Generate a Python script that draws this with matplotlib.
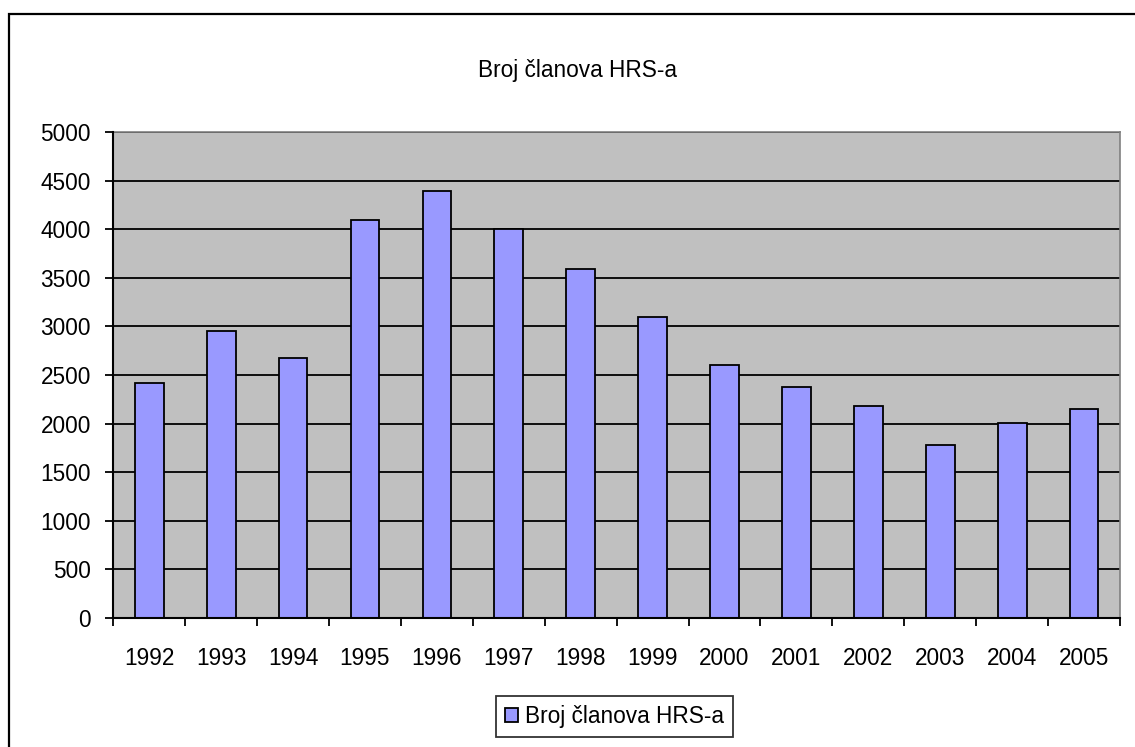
import matplotlib
matplotlib.use("Agg")
import matplotlib.pyplot as plt
from matplotlib.patches import Rectangle
import numpy as np

years = ["1992", "1993", "1994", "1995", "1996", "1997", "1998",
         "1999", "2000", "2001", "2002", "2003", "2004", "2005"]
members = [2420, 2950, 2670, 4100, 4400, 4000, 3590,
           3100, 2600, 2380, 2180, 1775, 2010, 2150]
y_ticks = [0, 500, 1000, 1500, 2000, 2500, 3000, 3500, 4000, 4500, 5000]
title = "Broj članova HRS-a"
series_name = "Broj članova HRS-a"

plt.rcParams['font.family'] = ['Liberation Sans', 'DejaVu Sans']
FS = 16.3

fig = plt.figure(figsize=(11.35, 7.47), dpi=100)
fig.patch.set_facecolor('white')

# outer chart border
fig.patches.append(Rectangle((8.5 / 1135, -0.1), 1.2, (747 - 13.5) / 747 + 0.1,
                             transform=fig.transFigure, fill=False,
                             edgecolor='black', linewidth=1.6, zorder=0))

ax = fig.add_axes([113.3 / 1135, 129.3 / 747, (1120 - 113.3) / 1135, (617.7 - 132.3) / 747])
ax.set_facecolor('#C0C0C0')

x = np.arange(len(years))
bars = ax.bar(x, members, width=0.4, color='#9999FF', edgecolor='black',
              linewidth=1.3, zorder=3, label=series_name)

ax.set_xlim(-0.5, len(years) - 0.5)
ax.set_ylim(0, 5000)
ax.set_yticks(y_ticks)
ax.set_yticklabels([str(v) for v in y_ticks], fontsize=FS)
ax.set_xticks(x)
ax.set_xticklabels(years, fontsize=FS)
ax.set_xticks(np.arange(len(years) + 1) - 0.5, minor=True)
ax.tick_params(axis='x', which='major', length=0, pad=21)
ax.tick_params(axis='x', which='minor', length=6, width=1.3, direction='out', color='black')
ax.tick_params(axis='y', length=6, width=1.3, direction='out', pad=10, color='black')

ax.yaxis.grid(True, color='black', linewidth=1.3, zorder=1)
ax.set_axisbelow(True)

for s in ['top', 'right']:
    ax.spines[s].set_color('#808080')
    ax.spines[s].set_linewidth(1.2)
for s in ['left', 'bottom']:
    ax.spines[s].set_color('black')
    ax.spines[s].set_linewidth(1.5)
    ax.spines[s].set_zorder(4)

fig.text(578 / 1135, (747 - 70) / 747, title, ha='center', va='center', fontsize=FS)

leg = fig.legend(handles=[bars], labels=[series_name], loc='center',
                 bbox_to_anchor=(614.5 / 1135, 30.5 / 747), fontsize=FS,
                 frameon=True, fancybox=False, handlelength=0.6, handleheight=0.6,
                 handletextpad=0.3, borderpad=0.4, borderaxespad=0)
leg.get_frame().set_edgecolor('black')
leg.get_frame().set_linewidth(1.3)

fig.savefig("out.png", dpi=100, facecolor='white')
